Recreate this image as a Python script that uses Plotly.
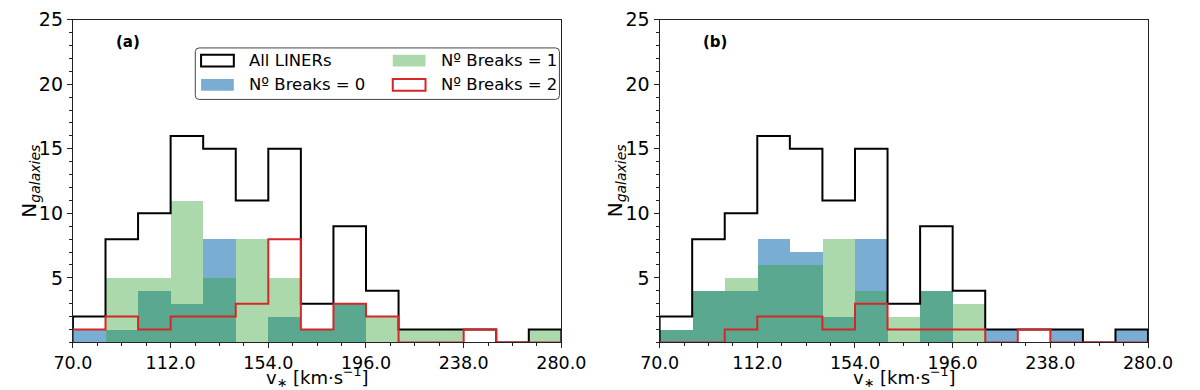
import plotly.graph_objects as go

# bins and ticks
bin_edges = [70, 84, 98, 112, 126, 140, 154, 168, 182, 196, 210, 224, 238, 252, 266, 280]
x_tick_vals = [70, 112, 154, 196, 238, 280]
x_tick_text = ["70.0", "112.0", "154.0", "196.0", "238.0", "280.0"]
y_tick_vals = [5, 10, 15, 20, 25]

# panel (a)
all_a = [2, 8, 10, 16, 15, 11, 15, 3, 9, 4, 1, 1, 1, 0, 1]
b0_a = [1, 1, 4, 3, 8, 0, 2, 1, 3, 0, 0, 0, 0, 0, 0]
b1_a = [0, 5, 5, 11, 5, 8, 5, 1, 3, 2, 1, 1, 0, 0, 1]
b2_a = [1, 2, 1, 2, 2, 3, 8, 1, 3, 2, 0, 0, 1, 0, 0]

# panel (b)
all_b = [2, 8, 10, 16, 15, 11, 15, 3, 9, 4, 1, 1, 1, 0, 1]
b0_b = [1, 4, 4, 8, 7, 2, 8, 0, 4, 0, 1, 0, 1, 0, 1]
b1_b = [1, 4, 5, 6, 6, 8, 4, 2, 4, 3, 0, 0, 0, 0, 0]
b2_b = [0, 0, 1, 2, 2, 1, 3, 1, 1, 1, 0, 1, 0, 0, 0]

legend_labels = ["All LINERs", "Nº Breaks = 0", "Nº Breaks = 1", "Nº Breaks = 2"]

BLUE = "rgba(31,119,180,0.6)"
GREEN = "rgba(44,160,44,0.4)"
RED = "#d62728"
FONT = "DejaVu Sans"

W, H = 1200, 390
centers = [(a + b) / 2 for a, b in zip(bin_edges[:-1], bin_edges[1:])]
widths = [b - a for a, b in zip(bin_edges[:-1], bin_edges[1:])]


def step_xy(counts):
    xs, ys = [bin_edges[0]], [0]
    for i, c in enumerate(counts):
        xs += [bin_edges[i], bin_edges[i + 1]]
        ys += [c, c]
    xs.append(bin_edges[-1])
    ys.append(0)
    return xs, ys


def px(x):
    return x / W


def py(y):
    return 1 - y / H


fig = go.Figure()

panels = [
    ("x", "y", all_a, b0_a, b1_a, b2_a),
    ("x2", "y2", all_b, b0_b, b1_b, b2_b),
]
for xa, ya, tot, b0, b1, b2 in panels:
    fig.add_trace(go.Bar(x=centers, y=b0, width=widths, marker=dict(color=BLUE, line=dict(width=0)),
                         xaxis=xa, yaxis=ya, showlegend=False))
    fig.add_trace(go.Bar(x=centers, y=b1, width=widths, marker=dict(color=GREEN, line=dict(width=0)),
                         xaxis=xa, yaxis=ya, showlegend=False))
    sx, sy = step_xy(tot)
    fig.add_trace(go.Scatter(x=sx, y=sy, mode="lines", line=dict(color="black", width=2),
                             xaxis=xa, yaxis=ya, showlegend=False))
    sx, sy = step_xy(b2)
    fig.add_trace(go.Scatter(x=sx, y=sy, mode="lines", line=dict(color=RED, width=2),
                             xaxis=xa, yaxis=ya, showlegend=False))

xdom_a = [px(56), px(563)]
xdom_b = [px(665), px(1172)]
ydom = [py(341), py(9)]

xaxis_style = dict(
    range=[70, 280], tickmode="array", tickvals=x_tick_vals, ticktext=x_tick_text,
    ticks="outside", ticklen=5, tickwidth=1, tickcolor="#222",
    minor=dict(tickmode="linear", tick0=70, dtick=10.5, ticks="outside", ticklen=3, tickcolor="#222"),
    showline=True, mirror=True, linecolor="#222", linewidth=1.2,
    showgrid=False, zeroline=False, tickfont=dict(size=17.5, color="black"),
    ticklabeloverflow="allow",
)
yaxis_style = dict(
    range=[0, 25], tickmode="array", tickvals=y_tick_vals,
    ticks="outside", ticklen=5, tickwidth=1, tickcolor="#222",
    minor=dict(tickmode="linear", tick0=0, dtick=1, ticks="outside", ticklen=3, tickcolor="#222"),
    showline=True, mirror=True, linecolor="#222", linewidth=1.2,
    showgrid=False, zeroline=False, tickfont=dict(size=19, color="black"),
    ticklabeloverflow="allow",
)

annotations = []
shapes = []
for off, lab in [(0, "(a)"), (609, "(b)")]:
    annotations.append(dict(text="<b>%s</b>" % lab, x=px(99 + off), y=py(32), xref="paper", yref="paper",
                            xanchor="left", yanchor="middle", showarrow=False, font=dict(size=15, color="black")))
    annotations.append(dict(text="N<sub><i>galaxies</i></sub>", x=px(11 + off), y=py(175), xref="paper",
                            yref="paper", textangle=-90, xanchor="center", yanchor="middle", showarrow=False,
                            font=dict(size=20, color="black")))
    annotations.append(dict(text="v<sub>∗</sub> [km·s<sup>−1</sup>]", x=px(310 + off), y=py(377),
                            xref="paper", yref="paper", xanchor="center", yanchor="middle", showarrow=False,
                            font=dict(size=18, color="black")))

# legend box (panel a)
x0, x1, y0, y1, r = 183, 561, 38, 91, 4
path = ("M %f,%f L %f,%f Q %f,%f %f,%f L %f,%f Q %f,%f %f,%f L %f,%f Q %f,%f %f,%f L %f,%f Q %f,%f %f,%f Z" % (
    px(x0 + r), py(y0), px(x1 - r), py(y0), px(x1), py(y0), px(x1), py(y0 + r),
    px(x1), py(y1 - r), px(x1), py(y1), px(x1 - r), py(y1),
    px(x0 + r), py(y1), px(x0), py(y1), px(x0), py(y1 - r),
    px(x0), py(y0 + r), px(x0), py(y0), px(x0 + r), py(y0)))
shapes.append(dict(type="path", path=path, xref="paper", yref="paper",
                   fillcolor="rgba(255,255,255,0.85)", line=dict(color="#444", width=1)))

entries = [
    (legend_labels[0], 189, 51, "white", dict(color="black", width=2)),
    (legend_labels[1], 189, 76, BLUE, dict(width=0)),
    (legend_labels[2], 388, 51, GREEN, dict(width=0)),
    (legend_labels[3], 388, 76, "white", dict(color=RED, width=2)),
]
for label, sx, sy, fill, ln in entries:
    shapes.append(dict(type="rect", xref="paper", yref="paper", x0=px(sx), x1=px(sx + 34),
                       y0=py(sy + 6), y1=py(sy - 6), fillcolor=fill, line=ln))
    annotations.append(dict(text=label, x=px(sx + 48), y=py(sy), xref="paper", yref="paper",
                            xanchor="left", yanchor="middle", showarrow=False,
                            font=dict(size=16.5, color="black")))

fig.update_layout(
    width=W, height=H, margin=dict(l=0, r=0, t=0, b=0),
    paper_bgcolor="white", plot_bgcolor="white",
    font=dict(family=FONT, color="black"),
    barmode="overlay", bargap=0, showlegend=False,
    xaxis=dict(domain=xdom_a, anchor="y", **xaxis_style),
    yaxis=dict(domain=ydom, anchor="x", **yaxis_style),
    xaxis2=dict(domain=xdom_b, anchor="y2", **xaxis_style),
    yaxis2=dict(domain=ydom, anchor="x2", **yaxis_style),
    annotations=annotations, shapes=shapes,
)

# page body has a default 8px margin; drop it so the figure sits at 0,0
fig.write_html("out.html", config={"displayModeBar": False},
               post_script="document.body.style.margin='0';")
